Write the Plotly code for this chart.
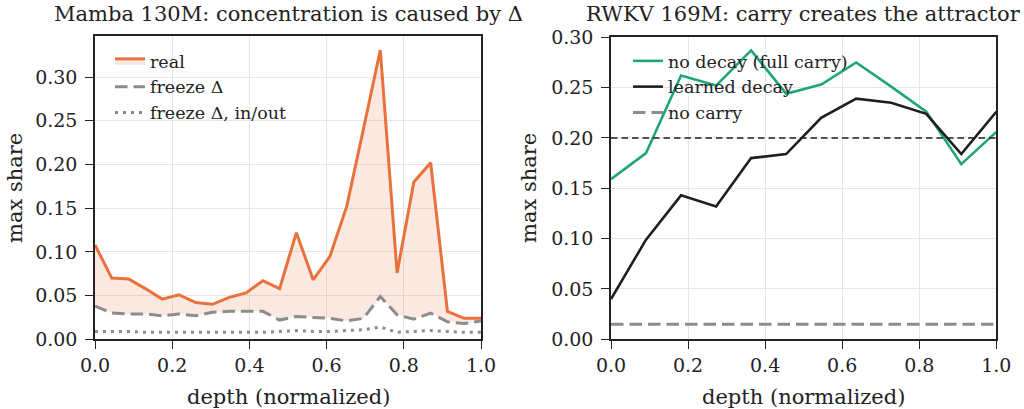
import plotly.graph_objects as go

# ---------------- data ----------------
mamba_layers = list(range(24))
mamba_depth = [i / 23 for i in mamba_layers]
mamba_real = [0.108, 0.070, 0.069, 0.058, 0.046, 0.051, 0.042, 0.040, 0.048, 0.053,
              0.067, 0.058, 0.122, 0.068, 0.095, 0.152, 0.241, 0.331, 0.076, 0.180,
              0.202, 0.032, 0.024, 0.024]
mamba_freeze = [0.038, 0.030, 0.029, 0.029, 0.027, 0.029, 0.027, 0.031, 0.032, 0.032,
                0.032, 0.022, 0.026, 0.025, 0.024, 0.021, 0.024, 0.049, 0.028, 0.023,
                0.030, 0.020, 0.018, 0.021]
mamba_freeze_io = [0.009, 0.009, 0.009, 0.008, 0.008, 0.008, 0.008, 0.008, 0.008, 0.008,
                   0.008, 0.009, 0.010, 0.009, 0.009, 0.010, 0.011, 0.014, 0.008, 0.009,
                   0.010, 0.009, 0.008, 0.008]

rwkv_layers = list(range(12))
rwkv_depth = [i / 11 for i in rwkv_layers]
rwkv_nodecay = [0.159, 0.185, 0.262, 0.252, 0.287, 0.244, 0.253, 0.275, 0.251, 0.226,
                0.174, 0.206]
rwkv_learned = [0.040, 0.099, 0.143, 0.132, 0.180, 0.184, 0.220, 0.239, 0.235, 0.224,
                0.184, 0.226]
rwkv_nocarry = [0.015] * 12
attractor_level = 0.20

title_left = "Mamba 130M: concentration is caused by Δ"
title_right = "RWKV 169M: carry creates the attractor"
xlabel = "depth (normalized)"
ylabel = "max share"
xticks = [0, 0.2, 0.4, 0.6, 0.8, 1.0]
xticklabels = ["0.0", "0.2", "0.4", "0.6", "0.8", "1.0"]
yticks = [0, 0.05, 0.10, 0.15, 0.20, 0.25, 0.30]
yticklabels = ["0.00", "0.05", "0.10", "0.15", "0.20", "0.25", "0.30"]

# ---------------- styling ----------------
FONT = "DejaVu Serif"
ORANGE = "#e8713c"
GREEN = "#1fa57a"
BLACK = "#1f1f1f"
GRAY = "#8c8c8c"
TXT = "#222222"
DASH = "12.5px,6px"
W, H = 1024, 409

def px_x(p):
    return p / W

def px_y(p):
    return 1 - p / H

fig = go.Figure()

# left panel
fig.add_trace(go.Scatter(x=mamba_depth, y=mamba_freeze, mode="lines", name="freeze Δ",
                         line=dict(color=GRAY, width=3, dash=DASH),
                         xaxis="x", yaxis="y", legend="legend", legendrank=2))
fig.add_trace(go.Scatter(x=mamba_depth, y=mamba_real, mode="lines", name="real",
                         line=dict(color=ORANGE, width=3),
                         fill="tonexty", fillcolor="rgba(232,113,60,0.16)",
                         xaxis="x", yaxis="y", legend="legend", legendrank=1))
fig.add_trace(go.Scatter(x=mamba_depth, y=mamba_freeze_io, mode="lines", name="freeze Δ, in/out",
                         line=dict(color=GRAY, width=3, dash="3px,5px"),
                         xaxis="x", yaxis="y", legend="legend", legendrank=3))

# right panel
fig.add_trace(go.Scatter(x=rwkv_depth, y=rwkv_nodecay, mode="lines", name="no decay (full carry)",
                         line=dict(color=GREEN, width=2.6),
                         xaxis="x2", yaxis="y2", legend="legend2", legendrank=1))
fig.add_trace(go.Scatter(x=rwkv_depth, y=rwkv_learned, mode="lines", name="learned decay",
                         line=dict(color=BLACK, width=2.6),
                         xaxis="x2", yaxis="y2", legend="legend2", legendrank=2))
fig.add_trace(go.Scatter(x=rwkv_depth, y=rwkv_nocarry, mode="lines", name="no carry",
                         line=dict(color=GRAY, width=3, dash=DASH),
                         xaxis="x2", yaxis="y2", legend="legend2", legendrank=3))
fig.add_trace(go.Scatter(x=[0, 1], y=[attractor_level, attractor_level], mode="lines",
                         line=dict(color=BLACK, width=1.6, dash="6.5px,4px"),
                         showlegend=False, xaxis="x2", yaxis="y2"))

axis_common = dict(
    showline=True, linecolor=TXT, linewidth=1.5, mirror=True,
    ticks="outside", ticklen=8, tickwidth=1.3, tickcolor=TXT,
    showgrid=True, gridcolor="#e6e6e6", gridwidth=1, zeroline=False,
    automargin=False,
    tickfont=dict(family=FONT, size=19, color=TXT),
)

def ann(text, x, y, size=21, angle=0):
    return dict(text=text, x=px_x(x), y=px_y(y), xref="paper", yref="paper",
                xanchor="center", yanchor="middle", showarrow=False, textangle=angle,
                font=dict(family=FONT, size=size, color=TXT))

legend_common = dict(xanchor="left", yanchor="top", bgcolor="rgba(0,0,0,0)", borderwidth=0,
                     font=dict(family=FONT, size=17.5, color=TXT), tracegroupgap=0,
                     traceorder="normal")

fig.update_layout(
    width=W, height=H,
    margin=dict(l=0, r=0, t=0, b=0, pad=0, autoexpand=False),
    paper_bgcolor="white", plot_bgcolor="white",
    font=dict(family=FONT, color=TXT),
    xaxis=dict(domain=[px_x(95), px_x(481)], range=[0, 1], anchor="y",
               tickvals=xticks, ticktext=xticklabels, ticklabelstandoff=0, **axis_common),
    yaxis=dict(domain=[px_y(339.3), px_y(36)], range=[0, 0.347], anchor="x",
               tickvals=yticks, ticktext=yticklabels, ticklabelstandoff=4, **axis_common),
    xaxis2=dict(domain=[px_x(611), px_x(996.3)], range=[0, 1], anchor="y2",
                tickvals=xticks, ticktext=xticklabels, ticklabelstandoff=0, **axis_common),
    yaxis2=dict(domain=[px_y(339.3), px_y(37.3)], range=[0, 0.30], anchor="x2",
                tickvals=yticks, ticktext=yticklabels, ticklabelstandoff=4, **axis_common),
    legend=dict(x=px_x(110), y=px_y(43), **legend_common),
    legend2=dict(x=px_x(628), y=px_y(43), **legend_common),
    annotations=[
        ann(title_left, 288, 14),
        ann(title_right, 803, 14),
        ann(xlabel, 288, 397),
        ann(xlabel, 803, 397),
        ann(ylabel, 15, 188, angle=-90),
        ann(ylabel, 529, 188, angle=-90),
    ],
)

# remove the browser's default 8px body margin so the figure sits at the page origin
fig.write_html("out.html", config={"displayModeBar": False},
               post_script="document.body.style.margin='0px';")
